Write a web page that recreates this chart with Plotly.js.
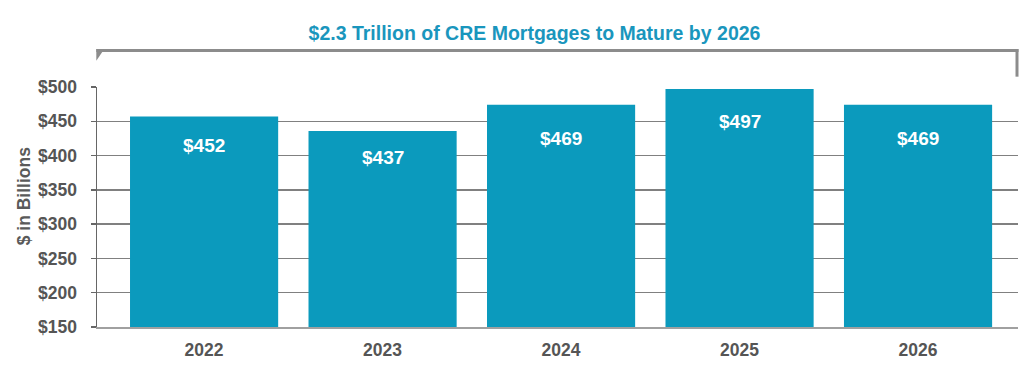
<!DOCTYPE html>
<html>
<head>
<meta charset="utf-8">
<script src="https://cdn.plot.ly/plotly-3.0.1.min.js"></script>
<style>html,body{margin:0;padding:0;background:#fff;}#chart{width:1025px;height:380px;}</style>
</head>
<body>
<div id="chart"></div>
<script>
const years = ["2022", "2023", "2024", "2025", "2026"];
const barHeights = [457, 436, 474, 497, 474];
const barLabels = ["$452", "$437", "$469", "$497", "$469"];
const yTickVals = [150, 200, 250, 300, 350, 400, 450, 500];
const yTickText = ["$150", "$200", "$250", "$300", "$350", "$400", "$450", "$500"];
const chartTitle = "$2.3 Trillion of CRE Mortgages to Mature by 2026";
const yTitle = "$ in Billions";

const teal = "#0b9abd";
const grey = "#8c8c8c";
const font = "Liberation Sans, Arial, sans-serif";
const labelShifts = [-29, -27, -34, -32, -34];

const trace = {
  type: "bar",
  x: years,
  y: barHeights,
  marker: {color: teal},
  width: 0.83,
  hoverinfo: "skip"
};

const annotations = years.map((yr, i) => ({
  x: i, y: barHeights[i], xref: "x", yref: "y",
  text: barLabels[i], showarrow: false, yshift: labelShifts[i],
  font: {family: font, size: 19, color: "#ffffff", weight: "bold"}
}));
annotations.push({
  xref: "paper", yref: "paper", x: (12 - 96.7) / 921.3, y: 0.546,
  text: yTitle, textangle: -90, showarrow: false,
  font: {family: font, size: 17.5, color: "#5a5a5a", weight: "bold"}
});

const px = v => (v - 96.7) / 921.3;
const py = v => (326.7 - v) / 239.4;

const layout = {
  width: 1025, height: 380,
  margin: {l: 97, r: 7, t: 87, b: 53, pad: 0},
  paper_bgcolor: "#ffffff", plot_bgcolor: "#ffffff",
  showlegend: false,
  title: {
    text: chartTitle, xref: "container", yref: "container",
    x: 534.5 / 1025, y: 1 - 33 / 380, xanchor: "center", yanchor: "middle",
    font: {family: font, size: 19.5, color: "#1a96bd", weight: "bold"}
  },
  xaxis: {
    type: "category", range: [-0.6, 4.56],
    showline: true, linecolor: "#a0a0a0", linewidth: 2,
    showgrid: false, ticks: "", zeroline: false,
    tickfont: {family: font, size: 17.5, color: "#555555", weight: "bold"},
    ticklabelstandoff: 6
  },
  yaxis: {
    range: [150, 500], tickvals: yTickVals, ticktext: yTickText,
    showline: true, linecolor: "#666666", linewidth: 1.5,
    showgrid: true, gridcolor: "#808080", gridwidth: 1.5,
    ticks: "outside", ticklen: 5, tickcolor: "#666666", tickwidth: 1.5,
    zeroline: false,
    tickfont: {family: font, size: 17.5, color: "#555555", weight: "bold"},
    ticklabelstandoff: 10
  },
  annotations: annotations,
  shapes: [
    {type: "line", xref: "paper", yref: "paper", x0: px(96), x1: px(1018.5), y0: py(51), y1: py(51),
     line: {color: grey, width: 3}},
    {type: "path", xref: "paper", yref: "paper",
     path: `M ${px(96)} ${py(49.5)} L ${px(104)} ${py(49.5)} L ${px(96)} ${py(61)} Z`,
     fillcolor: grey, line: {width: 0}},
    {type: "line", xref: "paper", yref: "paper", x0: px(1017), x1: px(1017), y0: py(49.5), y1: py(77),
     line: {color: grey, width: 3}}
  ]
};

Plotly.newPlot("chart", [trace], layout, {displayModeBar: false, staticPlot: true});
</script>
</body>
</html>
